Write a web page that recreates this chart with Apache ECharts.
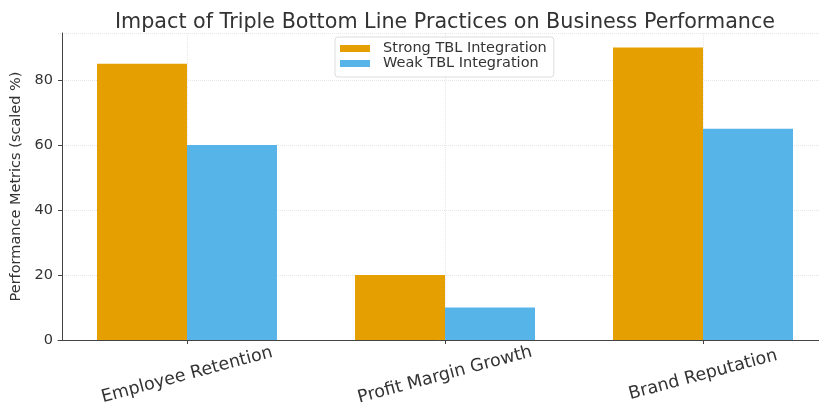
<!DOCTYPE html>
<html>
<head>
<meta charset="utf-8">
<script src="https://cdn.jsdelivr.net/npm/echarts@6/dist/echarts.min.js"></script>
<style>html,body{margin:0;padding:0;background:#fff;}#c{width:819px;height:405px;}</style>
</head>
<body>
<div id="c"></div>
<script>
const categories = ['Employee Retention', 'Profit Margin Growth', 'Brand Reputation'];
const strongTBL = [85, 20, 90];
const weakTBL = [60, 10, 65];
const yTicks = [0, 20, 40, 60, 80];

const chart = echarts.init(document.getElementById('c'), null, {renderer: 'canvas'});
const font = 'DejaVu Sans';
chart.setOption({
  animation: false,
  backgroundColor: '#fff',
  title: {
    text: 'Impact of Triple Bottom Line Practices on Business Performance',
    left: 440, top: 7, textAlign: 'center',
    textStyle: {fontFamily: font, fontSize: 20.7, fontWeight: 'normal', color: '#333'}
  },
  legend: {
    data: ['Strong TBL Integration', 'Weak TBL Integration'],
    orient: 'vertical',
    left: 335, top: 37,
    itemWidth: 30, itemHeight: 7, itemGap: 0,
    padding: [4, 7, 6, 5],
    borderColor: '#ddd', borderWidth: 1, borderRadius: 3,
    backgroundColor: 'rgba(255,255,255,0.8)',
    icon: 'rect',
    textStyle: {fontFamily: font, fontSize: 14.5, lineHeight: 15, color: '#333', padding: [0, 0, 0, 8]}
  },
  grid: {left: 58, width: 774, top: 33, bottom: 65, containLabel: false, outerBoundsMode: 'none'},
  xAxis: {
    type: 'category',
    data: categories,
    axisLine: {show: true, lineStyle: {color: '#444', width: 1}},
    axisTick: {show: true, alignWithLabel: true, length: 4, lineStyle: {color: '#444'}},
    splitLine: {show: true, alignWithLabel: true, lineStyle: {color: '#e6e6e6', type: 'dotted'}},
    axisLabel: {
      rotate: 15, align: 'center', verticalAlign: 'middle', margin: 35,
      fontFamily: font, fontSize: 17.5, color: '#333'
    }
  },
  yAxis: {
    type: 'value',
    min: 0, max: 94.5, interval: 20,
    offset: -4,
    name: 'Performance Metrics (scaled %)',
    nameLocation: 'middle', nameGap: 35, nameRotate: 90,
    nameTextStyle: {fontFamily: font, fontSize: 14.5, color: '#333'},
    axisLine: {show: true, lineStyle: {color: '#444', width: 1}},
    axisTick: {show: true, length: 4, lineStyle: {color: '#444'}},
    splitLine: {show: true, lineStyle: {color: '#e6e6e6', type: 'dotted'}},
    axisLabel: {
      showMaxLabel: false,
      formatter: function (v) { return yTicks.indexOf(v) >= 0 ? String(v) : ''; },
      fontFamily: font, fontSize: 14.5, color: '#333', margin: 9
    }
  },
  series: [
    {name: 'Strong TBL Integration', type: 'bar', data: strongTBL, barWidth: 90, barGap: '0%',
     itemStyle: {color: '#E69F00'}},
    {name: 'Weak TBL Integration', type: 'bar', data: weakTBL, barWidth: 90, barGap: '0%',
     itemStyle: {color: '#56B4E9'}}
  ]
});
</script>
</body>
</html>
